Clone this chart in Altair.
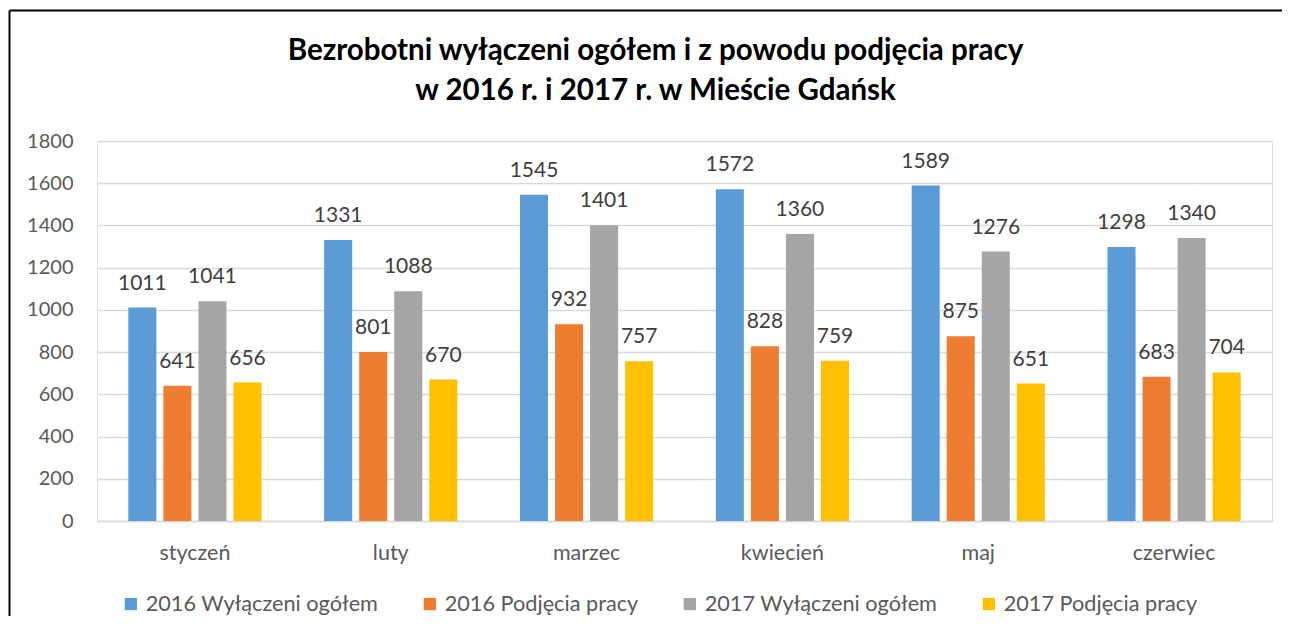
import altair as alt
import pandas as pd

months = ["styczeń", "luty", "marzec", "kwiecień", "maj", "czerwiec"]
series = ["2016 Wyłączeni ogółem", "2016 Podjęcia pracy", "2017 Wyłączeni ogółem", "2017 Podjęcia pracy"]
colors = ["#5B9BD5", "#ED7D31", "#A5A5A5", "#FFC000"]
w2016 = [1011, 1331, 1545, 1572, 1589, 1298]
p2016 = [641, 801, 932, 828, 875, 683]
w2017 = [1041, 1088, 1401, 1360, 1276, 1340]
p2017 = [656, 670, 757, 759, 651, 704]
y_ticks = [0, 200, 400, 600, 800, 1000, 1200, 1400, 1600, 1800]

rows = []
for s, vals in zip(series, [w2016, p2016, w2017, p2017]):
    for m, v in zip(months, vals):
        rows.append({"miesiac": m, "seria": s, "wartosc": v})
df = pd.DataFrame(rows)

FONT = "Lato"

x_enc = alt.X("miesiac:N", sort=months, title=None,
              scale=alt.Scale(paddingInner=0.32, paddingOuter=0.16),
              axis=alt.Axis(labelAngle=0, labelFontSize=21.5, labelColor="#595959",
                            labelFont=FONT, labelPadding=21, ticks=False,
                            domainColor="#D9D9D9", domainWidth=1.3))
xo_enc = alt.XOffset("seria:N", sort=series,
                     scale=alt.Scale(paddingInner=0.2, paddingOuter=0))
y_enc = alt.Y("wartosc:Q", title=None,
              scale=alt.Scale(domain=[0, 1800], nice=False),
              axis=alt.Axis(values=y_ticks, format="d", labelFontSize=20,
                            labelColor="#595959", labelFont=FONT, labelPadding=24,
                            ticks=False, domain=False,
                            gridColor="#D9D9D9", gridWidth=1.3))

base = alt.Chart(df)

bars = base.mark_bar().encode(
    x=x_enc,
    xOffset=xo_enc,
    y=y_enc,
    color=alt.Color("seria:N", sort=series,
                    scale=alt.Scale(domain=series, range=colors),
                    legend=alt.Legend(title=None, orient="none", direction="horizontal",
                                      columns=4, legendX=23, legendY=452,
                                      symbolType="square", symbolSize=150,
                                      symbolStrokeWidth=0, labelFontSize=21.7,
                                      labelFont=FONT, labelColor="#595959",
                                      labelOffset=4, columnPadding=40, padding=0,
                                      labelLimit=400)),
)

labels = base.mark_text(fontSize=21, font=FONT, color="#404040",
                        baseline="alphabetic", dy=-18).encode(
    x=alt.X("miesiac:N", sort=months),
    xOffset=alt.XOffset("seria:N", sort=series),
    y="wartosc:Q",
    text="wartosc:Q",
)

one = pd.DataFrame({"a": [0]})
frame_left = alt.Chart(one).mark_rule(color="#000000", strokeWidth=2).encode(
    x=alt.value(-87.5), y=alt.value(-130.5), y2=alt.value(500))
frame_top = alt.Chart(one).mark_rule(color="#000000", strokeWidth=2).encode(
    x=alt.value(-87.5), x2=alt.value(1200), y=alt.value(-130.5))

chart = alt.layer(bars, labels, frame_left, frame_top).properties(
    width=1175,
    height=380,
    autosize=alt.AutoSizeParams(type="none"),
    padding={"left": 89, "top": 133, "right": 10, "bottom": 95},
    title=alt.Title(
        text=["Bezrobotni wyłączeni ogółem i z powodu podjęcia pracy",
              "w 2016 r. i 2017 r. w Mieście Gdańsk"],
        font=FONT, fontSize=29.5, fontWeight="bold", color="#000000",
        anchor="middle", frame="group", dx=-29, offset=-120, lineHeight=40,
        baseline="alphabetic",
    ),
).configure_view(stroke=None).configure(background="white")

chart.save("out.html", embed_options={"renderer": "svg", "actions": False})
